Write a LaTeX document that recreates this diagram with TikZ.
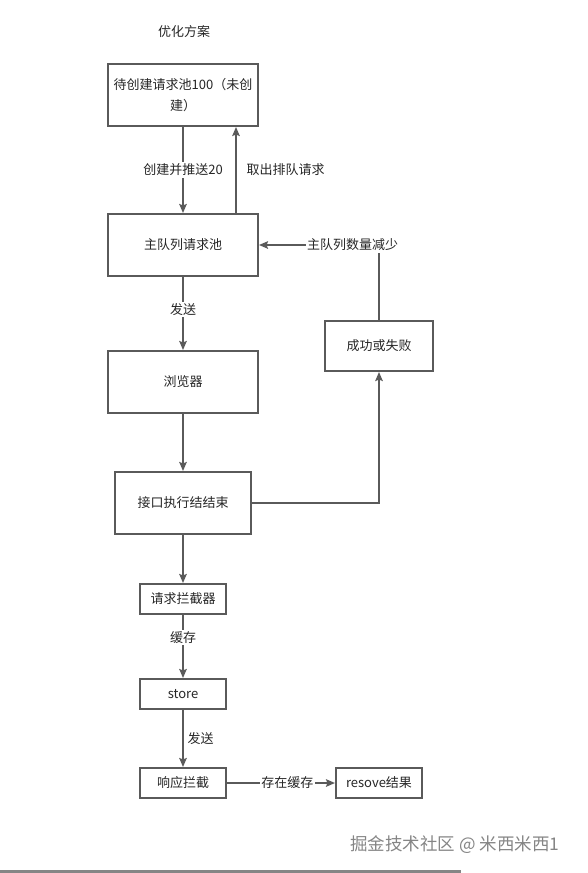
\documentclass[tikz,border=0pt]{standalone}
\usepackage{fontspec}
\setmainfont{Noto Sans CJK SC}
\usetikzlibrary{arrows.meta,calc}
\definecolor{edgec}{HTML}{5A5A5A}
\definecolor{txtc}{HTML}{262626}
\definecolor{wmc}{HTML}{858585}
\tikzset{
  box/.style={draw=edgec,line width=2pt,fill=white,text=txtc,align=center,inner sep=2pt,font=\fontsize{13}{21}\selectfont},
  bigbox/.style={box,minimum width=150pt,minimum height=62pt},
  smallbox/.style={box,minimum width=86pt,minimum height=30pt},
  arr/.style={draw=edgec,line width=2pt,-{Stealth[length=9pt,width=7.5pt,inset=1.5pt]}},
  lbl/.style={text=txtc,font=\fontsize{13}{16}\selectfont,inner sep=1.5pt},
  lblw/.style={lbl,fill=white}
}
\begin{document}
\begin{tikzpicture}[x=1pt,y=-1pt]
\useasboundingbox (0,0) rectangle (588,873);
\node[lbl] (title) at (184,32) {优化方案};
\node[bigbox] (b1) at (183,95) {待创建请求池100（未创\\建）};
\node[bigbox] (b2) at (183,245) {主队列请求池};
\node[bigbox] (b3) at (183,382) {浏览器};
\node[box,minimum width=136pt,minimum height=62pt] (b4) at (183,503) {接口执行结结束};
\node[box,minimum width=108pt,minimum height=50pt] (ok) at (379,346) {成功或失败};
\node[smallbox] (b5) at (183,599) {请求拦截器};
\node[smallbox] (st) at (183,694) {store};
\node[smallbox] (b6) at (183,783) {响应拦截};
\node[smallbox] (res) at (379,783) {resove结果};
\coordinate (upx) at (236,0);

\draw[arr] (b1.south) -- node[lblw] {创建并推送20} (b2.north);
\draw[arr] (b2.north -| upx) -- node[lbl,anchor=west,xshift=8pt] {取出排队请求} (b1.south -| upx);
\draw[arr] (ok.north) |- node[lblw,pos=0.61] {主队列数量减少} (b2.east);
\draw[arr] (b2.south) -- node[lblw,pos=0.44] {发送} (b3.north);
\draw[arr] (b3.south) -- (b4.north);
\draw[arr] (b4.east) -| (ok.south);
\draw[arr] (b4.south) -- (b5.north);
\draw[arr] (b5.south) -- node[lblw,pos=0.36] {缓存} (st.north);
\draw[arr] (st.south) -- node[lbl,anchor=west,xshift=2pt,pos=0.5] {发送} (b6.north);
\draw[arr] (b6.east) -- node[lblw,pos=0.56] {存在缓存} (res.west);

\node[text=wmc,font=\fontsize{17.5}{20}\selectfont,inner sep=0pt] (wm) at (455,845) {掘金技术社区 @ 米西米西1};
\coordinate (bl0) at (0,871.5);
\coordinate (bl1) at (461,871.5);
\draw[draw=wmc,line width=2.5pt] (bl0) -- (bl1);
\end{tikzpicture}
\end{document}
